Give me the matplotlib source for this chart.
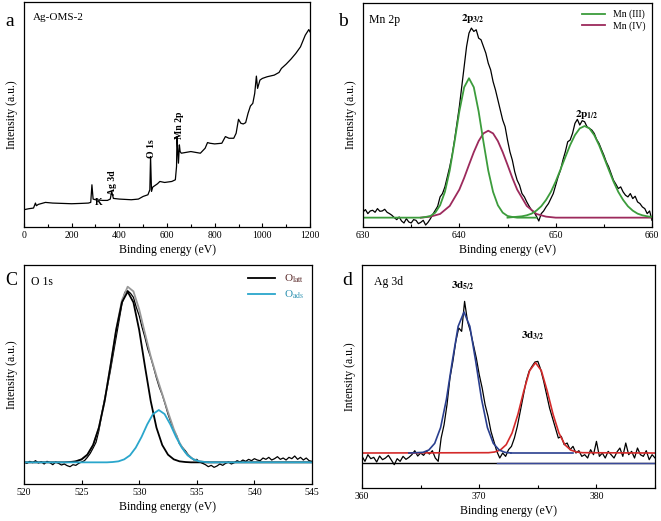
import matplotlib
matplotlib.use("Agg")
import matplotlib.pyplot as plt
from matplotlib.ticker import MultipleLocator

plt.rcParams['font.family'] = ['Liberation Serif', 'DejaVu Serif']
plt.rcParams['mathtext.fontset'] = 'stix'

# ---------------- Panel a: survey ----------------
survey_be = [0, 20, 40, 48, 52, 60, 90, 120, 160, 200, 240, 270, 280, 285, 290, 300, 330, 350,
             362, 368, 375, 400, 450, 480, 500, 520, 528, 531, 535, 540, 560, 570, 590, 620,
             635, 640, 642, 645, 648, 652, 655, 660, 700, 740, 760, 770, 780, 800, 830, 845,
             860, 880, 890, 900, 910, 920, 930, 940, 950, 960, 968, 975, 980, 990, 1000, 1020,
             1050, 1070, 1080, 1100, 1120, 1140, 1160, 1180, 1195, 1200]
survey_int = [52, 55, 57, 72, 64, 68, 74, 72, 71, 70, 71, 72, 74, 127, 84, 82, 80, 80,
              84, 107, 86, 84, 82, 84, 92, 97, 112, 212, 107, 120, 130, 137, 134, 137,
              142, 182, 272, 232, 192, 247, 227, 222, 227, 222, 237, 254, 252, 250, 252, 272,
              267, 267, 282, 324, 312, 310, 314, 342, 364, 372, 402, 454, 417, 442, 447, 452,
              457, 465, 477, 490, 505, 522, 542, 577, 594, 587]

# ---------------- Panel b: Mn 2p ----------------
mn_be = [630 + 0.25 * i for i in range(121)]
mn_int = [45, 52, 40, 48, 50, 44, 55, 47, 48, 53, 44, 40, 35, 28, 22, 30, 18, 12, 25, 15,
          12, 22, 20, 10, 14, 20, 6, 14, 25, 38, 50, 62, 90, 100, 120, 150, 180, 215, 260, 310,
          360, 420, 480, 540, 580, 595, 585, 590, 565, 560, 540, 520, 490, 470, 435, 410, 380,
          350, 320, 300, 260, 225, 200, 165, 140, 125, 100, 90, 75, 62, 50, 45, 32, 18, 40, 48,
          60, 70, 85, 100, 125, 150, 170, 200, 225, 255, 260, 280, 310, 322, 305, 318, 315, 300,
          295, 290, 280, 262, 250, 232, 215, 195, 180, 160, 140, 128, 115, 120, 105, 95, 90,
          100, 85, 92, 75, 70, 60, 55, 40, 48, 20]

mn3a_be = [630, 636, 636.5, 637, 637.5, 638, 638.5, 639, 639.5, 640, 640.5, 641, 641.5, 642,
           642.5, 643, 643.5, 644, 644.5, 645, 645.5, 646, 648]
mn3a_int = [28, 28, 30, 33, 43, 65, 105, 169, 255, 346, 418, 445, 418, 346,
            255, 169, 105, 65, 43, 33, 30, 28, 28]
mn4_be = [636, 637, 638, 639, 640, 640.5, 641, 641.5, 642, 642.5, 643, 643.5, 644, 644.5,
          645, 645.5, 646, 647, 648, 649, 650, 660]
mn4_int = [28, 31, 39, 63, 112, 147, 186, 224, 257, 280, 288, 280, 257, 224,
           186, 147, 112, 63, 39, 31, 28, 28]
mn3b_be = [645, 646.5, 647, 647.5, 648, 648.5, 649, 649.5, 650, 650.5, 651, 651.5, 652, 652.5,
           653, 653.5, 654, 654.5, 655, 655.5, 656, 656.5, 657, 657.5, 658, 658.5, 659, 659.5, 660]
mn3b_int = [28, 32, 35, 40, 49, 62, 81, 105, 136, 172, 209, 245, 275, 295,
            302, 295, 275, 245, 209, 172, 136, 105, 81, 62, 49, 40, 35, 32, 30]

# ---------------- Panel c: O 1s ----------------
o_be = [520 + 0.25 * i for i in range(101)]
o_int = [66, 62, 68, 64, 70, 63, 67, 60, 68, 64, 58, 66, 62, 57, 60, 55, 52, 58, 56, 62,
         66, 70, 80, 92, 108, 125, 160, 210, 255, 295, 340, 390, 440, 490, 540, 575, 580, 572,
         560, 530, 505, 470, 440, 405, 380, 350, 318, 290, 268, 240, 210, 185, 160, 145, 120,
         110, 100, 88, 80, 72, 74, 66, 62, 58, 52, 56, 50, 54, 60, 56, 62, 66, 60, 64, 70, 66,
         72, 68, 74, 70, 76, 72, 70, 78, 74, 80, 72, 76, 82, 74, 78, 72, 80, 76, 84, 74, 80,
         72, 78, 70, 68]
olatt_be = [520, 523, 523.5, 524, 524.5, 525, 525.5, 526, 526.5, 527, 527.5, 528, 528.5, 529,
            529.5, 530, 530.5, 531, 531.5, 532, 532.5, 533, 533.5, 534, 534.5, 535, 545]
olatt_int = [65, 65, 65, 66, 68, 74, 88, 117, 169, 249, 353, 462, 545, 577,
             545, 462, 353, 249, 169, 117, 88, 74, 68, 66, 65, 65, 65]
oads_be = [520, 527.2, 527.7, 528.2, 528.7, 529.2, 529.7, 530.2, 530.7, 531.2, 531.7, 532.2,
           532.7, 533.2, 533.7, 534.2, 534.7, 535.2, 535.7, 536.2, 545]
oads_int = [65, 65, 66, 68, 74, 86, 109, 141, 179, 210, 222, 210,
            179, 141, 109, 86, 74, 68, 66, 65, 65]
oenv_be = [524.5, 525, 525.5, 526, 526.5, 527, 527.5, 528, 528.5, 529, 529.5, 530, 530.5,
           531, 531.5, 532, 532.5, 533, 533.5, 534, 534.5, 535, 535.5, 536]
oenv_int = [68, 74, 88, 117, 169, 249, 353, 464, 551, 592, 578, 524, 452,
            383, 324, 270, 216, 165, 124, 95, 78, 70, 67, 65]

# ---------------- Panel d: Ag 3d ----------------
ag_be = [360 + 0.25 * i for i in range(101)]
ag_int = [95, 80, 100, 88, 92, 78, 96, 85, 90, 98, 84, 70, 88, 80, 95, 86, 92, 100, 112, 96,
          105, 98, 110, 102, 112, 90, 80, 150, 190, 250, 330, 380, 440, 480, 470, 560, 500,
          470, 430, 390, 340, 300, 250, 215, 170, 140, 110, 90, 105, 95, 115, 125, 150, 185,
          230, 275, 320, 350, 365, 378, 380, 355, 320, 280, 240, 210, 180, 150, 155, 130, 135,
          115, 125, 105, 112, 95, 100, 90, 115, 100, 140, 95, 105, 90, 110, 100, 90, 108, 120,
          95, 135, 100, 110, 90, 120, 100, 95, 112, 85, 100, 90]
ag52_be = [364, 365.2, 365.7, 366.2, 366.7, 367.2, 367.7, 368.2, 368.7, 369.2, 369.7, 370.2,
           370.7, 371.2, 371.7, 372.2, 372.7]
ag52_int = [105, 107, 114, 134, 181, 266, 380, 485, 528, 485, 380, 266,
            181, 134, 114, 107, 105]
ag32_be = [360, 370.8, 371.3, 371.8, 372.3, 372.8, 373.3, 373.8, 374.3, 374.8, 375.3, 375.8,
           376.3, 376.8, 377.3, 377.8, 378.3, 378.8, 385]
ag32_int = [105, 106, 108, 114, 130, 165, 221, 291, 352, 376, 352, 291,
            221, 165, 130, 114, 108, 106, 105]

fig = plt.figure(figsize=(6.61, 5.21), dpi=100)

axa = fig.add_axes([0.0363, 0.5643, 0.4327, 0.4319])
axb = fig.add_axes([0.5492, 0.5643, 0.4372, 0.4299])
axc = fig.add_axes([0.0363, 0.0710, 0.4357, 0.4203])
axd = fig.add_axes([0.5477, 0.0633, 0.4433, 0.4280])

def style(ax, xlim, ylim, major, minor):
    ax.set_xlim(*xlim)
    ax.set_ylim(*ylim)
    ax.xaxis.set_major_locator(MultipleLocator(major))
    if minor:
        ax.xaxis.set_minor_locator(MultipleLocator(minor))
    ax.set_yticks([])
    ax.tick_params(axis='x', which='both', direction='in', labelsize=7, top=False, pad=3)
    ax.tick_params(axis='x', which='major', length=3, width=0.8)
    ax.tick_params(axis='x', which='minor', length=2, width=0.8)
    ax.set_xlabel('Binding energy (eV)', fontsize=8.5, labelpad=3)
    ax.set_ylabel('Intensity (a.u.)', fontsize=8.5, labelpad=4)
    for s in ax.spines.values():
        s.set_linewidth(0.9)

# a
axa.plot(survey_be, survey_int, color='black', lw=0.9)
style(axa, (0, 1200), (0, 677), 200, 100)
axa.text(0.03, 0.95, 'Ag-OMS-2', transform=axa.transAxes, fontsize=8, va='top')
axa.text(298, 73, 'K', fontsize=7, fontweight='bold', va='center')
axa.text(373, 132, 'Ag 3d', fontsize=7, fontweight='bold', rotation=90, ha='center', va='center')
axa.text(533, 237, 'O 1s', fontsize=7, fontweight='bold', rotation=90, ha='center', va='center')
axa.text(652, 305, 'Mn 2p', fontsize=7, fontweight='bold', rotation=90, ha='center', va='center')

# b
axb.plot(mn_be, mn_int, color='black', lw=0.9)
lb4, = axb.plot(mn4_be, mn4_int, color='#9c2a5c', lw=1.3)
lb3, = axb.plot(mn3a_be, mn3a_int, color='#3c9c3c', lw=1.3)
axb.plot(mn3b_be, mn3b_int, color='#3c9c3c', lw=1.3)
style(axb, (630, 660), (0, 670), 10, 5)
axb.text(0.02, 0.95, 'Mn 2p', transform=axb.transAxes, fontsize=8.5, va='top')
axb.text(641.4, 615, r'$\mathbf{2p_{3/2}}$', fontsize=8, ha='center')
axb.text(653.2, 330, r'$\mathbf{2p_{1/2}}$', fontsize=8, ha='center')
axb.legend([lb3, lb4], ['Mn (III)', 'Mn (IV)'], loc='upper right', frameon=False,
           fontsize=7, handlelength=2.4, borderaxespad=0.3, labelspacing=0.2)

# c
axc.plot(o_be, o_int, color='black', lw=0.9)
axc.plot(oenv_be, oenv_int, color='#999999', lw=1.3)
l1, = axc.plot(olatt_be, olatt_int, color='black', lw=1.3)
l2, = axc.plot(oads_be, oads_int, color='#2aa6cc', lw=1.3)
style(axc, (520, 545), (0, 657), 5, None)
axc.text(0.025, 0.95, 'O 1s', transform=axc.transAxes, fontsize=8.5, va='top')
legc = axc.legend([l1, l2], [r'O$_{\mathrm{latt}}$', r'O$_{\mathrm{ads}}$'], loc='upper right',
                  frameon=False, fontsize=8, handlelength=2.4, borderaxespad=0.3, labelspacing=0.3)
legc.get_texts()[0].set_color('#5a2a2a')
legc.get_texts()[1].set_color('#2a90b0')

# d
axd.plot(ag_be, ag_int, color='black', lw=0.9)
axd.axhline(76, color='black', lw=1.0)
axd.plot([371.5, 385], [76, 76], color='#3a4a9a', lw=1.0)
axd.plot(ag32_be, ag32_int, color='#d42a2a', lw=1.2)
axd.plot(ag52_be, ag52_int, color='#2a3f8f', lw=1.2)
axd.plot([372.7, 378], [105, 105], color='#2a3f8f', lw=1.2)
style(axd, (360, 385), (0, 669), 10, 5)
axd.text(0.04, 0.95, 'Ag 3d', transform=axd.transAxes, fontsize=8.5, va='top')
axd.text(368.6, 600, r'$\mathbf{3d_{5/2}}$', fontsize=8, ha='center')
axd.text(374.6, 448, r'$\mathbf{3d_{3/2}}$', fontsize=8, ha='center')

# panel letters
fig.text(0.008, 0.975, 'a', fontsize=14, va='top')
fig.text(0.512, 0.975, 'b', fontsize=14, va='top')
fig.text(0.008, 0.478, 'C', fontsize=13, va='top')
fig.text(0.518, 0.478, 'd', fontsize=14, va='top')

fig.savefig('out.png', dpi=100)
